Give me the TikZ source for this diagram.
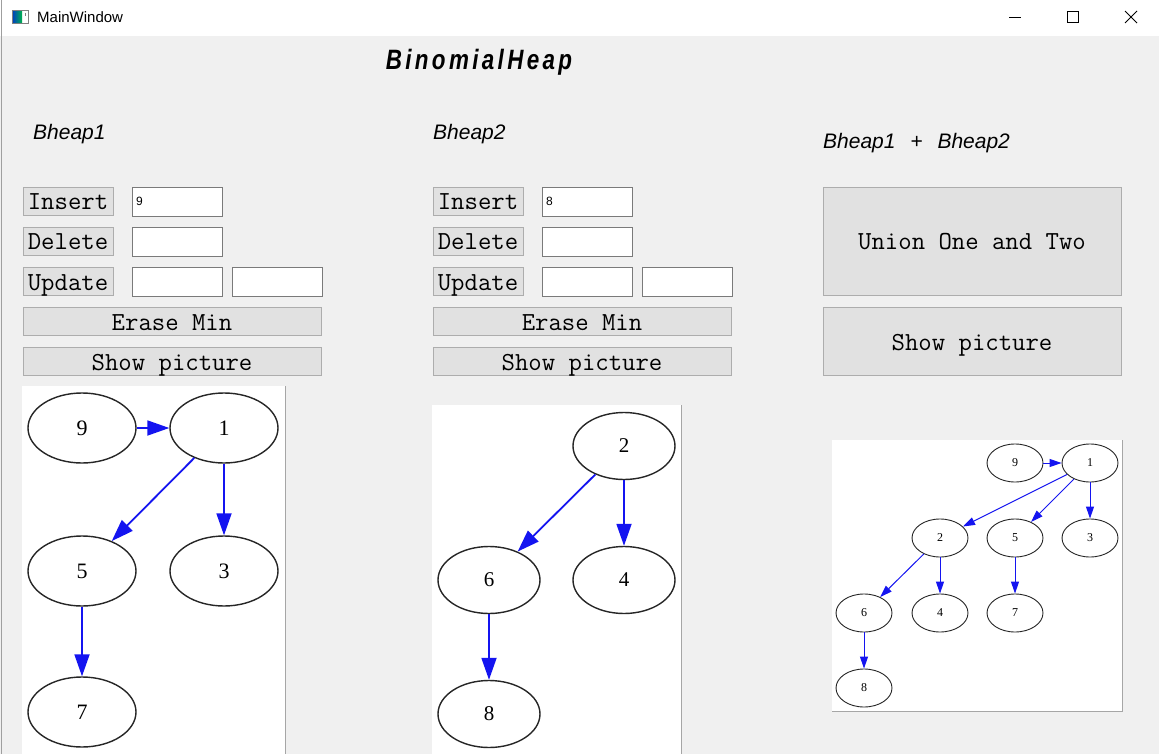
\documentclass[tikz,border=0pt]{standalone}
\usepackage{fontspec}
\usetikzlibrary{shapes.geometric,arrows.meta}
\newfontfamily\uifont{Liberation Sans}
\newfontfamily\titlefont[FakeStretch=0.8,LetterSpace=12]{Liberation Sans}
\newfontfamily\keyfont{Liberation Serif}
\definecolor{winbg}{HTML}{F0F0F0}
\definecolor{btnfill}{HTML}{E1E1E1}
\definecolor{btnedge}{HTML}{ADADAD}
\definecolor{fieldedge}{HTML}{7A7A7A}
\definecolor{arcblue}{HTML}{1414F0}
\definecolor{keyedge}{HTML}{262626}
\tikzset{
  btn/.style={draw=btnedge, fill=btnfill, inner sep=0pt, minimum height=28pt,
    text height=18pt, text depth=0pt, font=\ttfamily\fontsize{26}{26}\selectfont},
  field/.style={draw=fieldedge, fill=white, inner xsep=4pt, inner ysep=0pt,
    text width=82pt, align=left, minimum height=29pt, font=\uifont\fontsize{12}{12}\selectfont},
  heaplabel/.style={anchor=base west, inner sep=0pt, font=\uifont\itshape\fontsize{21}{21}\selectfont},
  bigkey/.style={ellipse, draw=keyedge, line width=1.4pt, inner sep=0pt,
    minimum width=108pt, minimum height=70pt, font=\keyfont\fontsize{22}{22}\selectfont},
  midkey/.style={bigkey, minimum width=102pt, minimum height=67pt, font=\keyfont\fontsize{21}{21}\selectfont},
  smallkey/.style={ellipse, draw=keyedge, line width=0.9pt, inner sep=0pt,
    minimum width=56pt, minimum height=38pt, font=\keyfont\fontsize{12}{12}\selectfont},
  bigarc/.style={arcblue, line width=1.8pt, -{Triangle[length=22pt,width=15pt]}},
  smallarc/.style={arcblue, line width=1pt, -{Triangle[length=12pt,width=8pt]}}
}
\begin{document}
\begin{tikzpicture}[x=1pt,y=-1pt]
\useasboundingbox (0,0) rectangle (1159,754);
% window
\fill[winbg] (0,36) rectangle (1159,754);
\fill[white] (0,0) rectangle (1159,36);
\draw[gray!75, line width=1pt] (1,0) -- (1,754);
\shade[left color=blue!45!teal, right color=green!40!teal] (13,11) rectangle (22,23);
\draw[gray, line width=0.8pt] (12.5,10.5) rectangle (28,23.5);
\draw[gray, line width=1pt] (25,13) -- (25,16);
\node[anchor=west, inner sep=0pt, font=\uifont\fontsize{15}{15}\selectfont] (wintitle) at (37,17) {MainWindow};
\draw[line width=0.8pt] (1009,17.5) -- (1021,17.5);
\draw[line width=0.8pt] (1067,11.5) rectangle (1078,22.5);
\draw[line width=0.8pt] (1125,11) -- (1137,23) (1125,23) -- (1137,11);

% headings
\node[inner sep=0pt, font=\titlefont\bfseries\itshape\fontsize{28}{28}\selectfont] (title) at (479,62) {BinomialHeap};
\node[heaplabel] (lab1) at (33,140) {Bheap1};
\node[heaplabel] (lab2) at (433,140) {Bheap2};
\node[heaplabel] (labsum) at (823,149) {Bheap1\hspace{9pt} +\hspace{9pt} Bheap2};

% controls of both heaps
\foreach \p/\dx/\val in {1/0/9, 2/410/8} {
  \node[btn, minimum width=90pt] (ins\p) at (68+\dx,201) {Insert};
  \node[field] (insval\p) at (177+\dx,201.5) {\val};
  \node[btn, minimum width=90pt] (del\p) at (68+\dx,241) {Delete};
  \node[field] (delval\p) at (177+\dx,241.5) {};
  \node[btn, minimum width=90pt] (upd\p) at (68+\dx,281) {Update};
  \node[field] (updkey\p) at (177+\dx,281.5) {};
  \node[field] (updval\p) at (277+\dx,281.5) {};
  \node[btn, minimum width=298pt] (erase\p) at (172+\dx,321) {Erase Min};
  \node[btn, minimum width=298pt] (show\p) at (172+\dx,361) {Show picture};
}
\node[btn, minimum width=298pt, minimum height=108pt] (union) at (972,241) {Union One and Two};
\node[btn, minimum width=298pt, minimum height=68pt] (showsum) at (972,341) {Show picture};

% picture areas
\fill[white] (22,386) rectangle (285,754);
\draw[gray!70] (285,386) -- (285,754);
\fill[white] (432,405) rectangle (681,754);
\draw[gray!70] (681,405) -- (681,754);
\fill[white] (832,440) rectangle (1122,711);
\draw[gray!70] (1122,440) -- (1122,711) -- (832,711);

% Bheap1
\node[bigkey] (a9) at (82,428) {9};
\node[bigkey] (a1) at (224,428) {1};
\node[bigkey] (a5) at (82,571) {5};
\node[bigkey] (a3) at (224,571) {3};
\node[bigkey] (a7) at (82,712) {7};
\foreach \s/\t in {a9/a1, a1/a5, a1/a3, a5/a7}
  \draw[bigarc] (\s) -- (\t);

% Bheap2
\node[midkey] (b2) at (624,446) {2};
\node[midkey] (b6) at (489,580) {6};
\node[midkey] (b4) at (624,580) {4};
\node[midkey] (b8) at (489,714) {8};
\foreach \s/\t in {b2/b6, b2/b4, b6/b8}
  \draw[bigarc] (\s) -- (\t);

% union
\node[smallkey] (c9) at (1015,463) {9};
\node[smallkey] (c1) at (1090,463) {1};
\node[smallkey] (c2) at (940,538) {2};
\node[smallkey] (c5) at (1015,538) {5};
\node[smallkey] (c3) at (1090,538) {3};
\node[smallkey] (c6) at (864,613) {6};
\node[smallkey] (c4) at (940,613) {4};
\node[smallkey] (c7) at (1015,613) {7};
\node[smallkey] (c8) at (864,688) {8};
\foreach \s/\t in {c9/c1, c1/c2, c1/c5, c1/c3, c2/c6, c2/c4, c5/c7, c6/c8}
  \draw[smallarc] (\s) -- (\t);
\end{tikzpicture}
\end{document}
